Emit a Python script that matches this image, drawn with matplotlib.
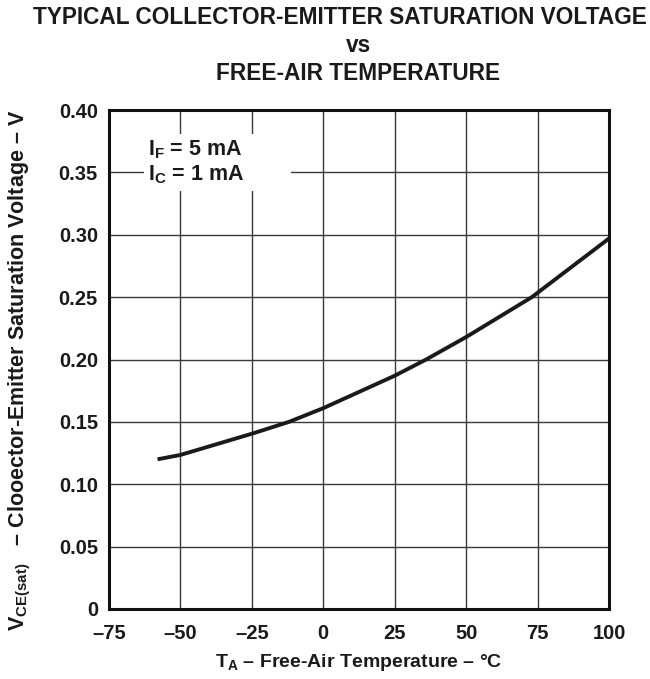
import matplotlib
matplotlib.use("Agg")
import matplotlib.pyplot as plt
from matplotlib.patches import Rectangle

plt.rcParams['font.family'] = ['Liberation Sans', 'DejaVu Sans']
plt.rcParams['font.weight'] = 'bold'
plt.rcParams['mathtext.fontset'] = 'custom'
plt.rcParams['mathtext.rm'] = 'Liberation Sans:bold'
plt.rcParams['mathtext.it'] = 'Liberation Sans:bold'
plt.rcParams['mathtext.bf'] = 'Liberation Sans:bold'

# Data
temp_c = [-58, -50, -25, -12, 0, 25, 36, 50, 73, 100]
vce_sat = [0.120, 0.1235, 0.1405, 0.150, 0.161, 0.187, 0.200, 0.218, 0.250, 0.297]

x_ticks = [-75, -50, -25, 0, 25, 50, 75, 100]
x_tick_labels = ['\u201375', '\u201350', '\u201325', '0', '25', '50', '75', '100']
y_ticks = [0, 0.05, 0.10, 0.15, 0.20, 0.25, 0.30, 0.35, 0.40]
y_tick_labels = ['0', '0.05', '0.10', '0.15', '0.20', '0.25', '0.30', '0.35', '0.40']

EN = '\u2013'
W, H = 650, 679
fig = plt.figure(figsize=(W / 100, H / 100), dpi=100)
ax = fig.add_axes([109 / W, 1 - 609 / H, 500 / W, 499 / H])

ax.set_xlim(-75, 100)
ax.set_ylim(0, 0.40)
ax.set_xticks(x_ticks)
ax.set_xticklabels(x_tick_labels, fontsize=14.5, fontweight='bold')
ax.set_yticks(y_ticks)
ax.set_yticklabels(y_tick_labels, fontsize=14.5, fontweight='bold')
ax.tick_params(axis='y', length=0, pad=8, colors='#1a1a1a')
ax.tick_params(axis='x', length=0, pad=11, colors='#1a1a1a')

ax.grid(True, color='#3a3a3a', linewidth=1.0)
ax.set_axisbelow(True)
for s in ax.spines.values():
    s.set_linewidth(2.2)
    s.set_color('#111111')

# white box behind the condition labels
ax.add_patch(Rectangle((-62.8, 0.335), 51.4, 0.046, facecolor='white',
                       edgecolor='none', zorder=1.5))
ax.text(-61.5, 0.368, r'I$_{\mathrm{F}}$ = 5 mA', fontsize=15.5, fontweight='bold',
        ha='left', va='center', zorder=3, color='#1a1a1a')
ax.text(-61.5, 0.348, r'I$_{\mathrm{C}}$ = 1 mA', fontsize=15.5, fontweight='bold',
        ha='left', va='center', zorder=3, color='#1a1a1a')

ax.plot(temp_c, vce_sat, color='#1a1a1a', linewidth=2.8, solid_capstyle='butt',
        solid_joinstyle='round', zorder=4, clip_on=False)

ax.set_xlabel(r'T$_{\mathrm{A}}$ ' + EN + ' Free-Air Temperature ' + EN + ' \u00b0C',
              fontsize=14, fontweight='bold', labelpad=6, color='#1a1a1a')
ax.set_ylabel(r'V$_{\mathrm{CE(sat)}}$   ' + EN + ' Clooector-Emitter Saturation Voltage ' + EN + ' V',
              fontsize=15.5, fontweight='bold', color='#1a1a1a')
ax.yaxis.set_label_coords(-0.152, 0.478)

fig.text(33 / W, 1 - 17 / H, 'TYPICAL COLLECTOR-EMITTER SATURATION VOLTAGE',
         fontsize=16.3, fontweight='bold', ha='left', va='center', color='#1a1a1a')
fig.text(358 / W, 1 - 46 / H, 'vs', fontsize=16.3, fontweight='bold', ha='center',
         va='center', color='#1a1a1a')
fig.text(358 / W, 1 - 74 / H, 'FREE-AIR TEMPERATURE', fontsize=16.3, fontweight='bold',
         ha='center', va='center', color='#1a1a1a')

fig.savefig('out.png', dpi=100)
